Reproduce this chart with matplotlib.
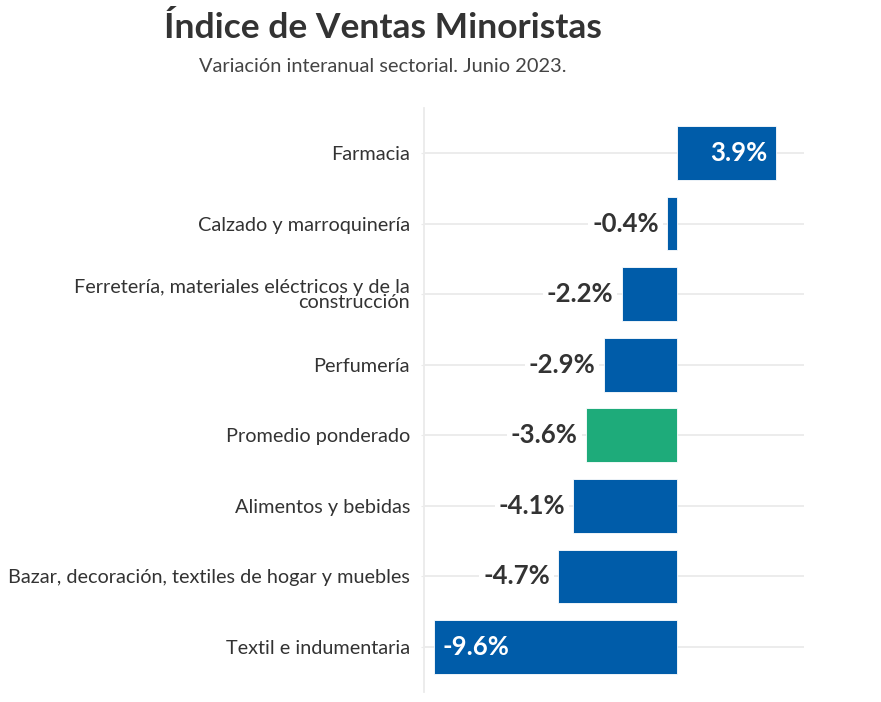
import matplotlib
matplotlib.use("Agg")
import matplotlib.pyplot as plt

categories = [
    "Farmacia",
    "Calzado y marroquinería",
    "Ferretería, materiales eléctricos y de la\nconstrucción",
    "Perfumería",
    "Promedio ponderado",
    "Alimentos y bebidas",
    "Bazar, decoración, textiles de hogar y muebles",
    "Textil e indumentaria",
]
values = [3.9, -0.4, -2.2, -2.9, -3.6, -4.1, -4.7, -9.6]
highlight = "Promedio ponderado"
title = "Índice de Ventas Minoristas"
subtitle = "Variación interanual sectorial. Junio 2023."

BLUE = "#005CA9"
GREEN = "#1EAB7A"
TEXT = "#333333"
GRID = "#EBEBEB"

plt.rcParams['font.family'] = ['Lato', 'DejaVu Sans']

fig = plt.figure(figsize=(8.81, 7.02), dpi=100)
ax = fig.add_axes([424/881, 1-692/702, 380/881, (692-108)/702])

ypos = list(range(len(categories)))
colors = [GREEN if c == highlight else BLUE for c in categories]
ax.barh(ypos, values, height=0.76, color=colors, edgecolor="white", linewidth=0.6, zorder=2)

ax.set_xlim(-10, 5)
ax.set_ylim(len(categories) - 0.362, -0.638)
ax.set_yticks(ypos)
ax.set_yticklabels(categories, fontsize=14.3, color=TEXT, linespacing=0.85)
ax.tick_params(axis='y', length=2, color=GRID, pad=8)
ax.set_xticks([])
ax.grid(axis='y', color=GRID, linewidth=1.3, zorder=0)
ax.set_axisbelow(True)
for s in ["top", "right", "bottom"]:
    ax.spines[s].set_visible(False)
ax.spines["left"].set_color(GRID)
ax.spines["left"].set_linewidth(1.3)

for y, v in zip(ypos, values):
    lab = f"{v:.1f}%"
    if v > 0:
        ax.annotate(lab, (v, y), xytext=(-6, 0), textcoords="offset points",
                    ha="right", va="center", fontsize=18.5, fontweight="bold",
                    color="white", zorder=4)
    elif v < -8:
        ax.annotate(lab, (v, y), xytext=(6, 0), textcoords="offset points",
                    ha="left", va="center", fontsize=18.5, fontweight="bold",
                    color="white", zorder=4)
    else:
        ax.annotate(lab, (v, y), xytext=(-6, 0), textcoords="offset points",
                    ha="right", va="center", fontsize=18.5, fontweight="bold",
                    color=TEXT, zorder=4,
                    bbox=dict(boxstyle="square,pad=0.15", fc="white", ec="none"))

fig.text(383/881, 1-28/702, title, ha="center", va="center", fontsize=25.5,
         fontweight="bold", color=TEXT)
fig.text(383/881, 1-67/702, subtitle, ha="center", va="center", fontsize=14.4,
         color="#444444")

fig.savefig("out.png", dpi=100)
